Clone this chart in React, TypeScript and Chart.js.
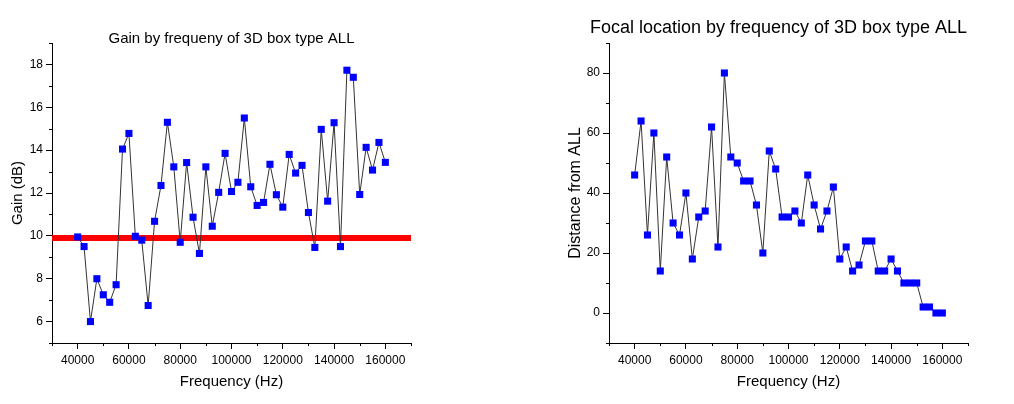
import React, { useEffect, useRef } from "react";
import { Chart, registerables } from "chart.js";

Chart.register(...registerables);

// ---------------- data ----------------
const frequencies = [
  40000, 42500, 45000, 47500, 50000, 52500, 55000, 57500, 60000, 62500,
  65000, 67500, 70000, 72500, 75000, 77500, 80000, 82500, 85000, 87500,
  90000, 92500, 95000, 97500, 100000, 102500, 105000, 107500, 110000, 112500,
  115000, 117500, 120000, 122500, 125000, 127500, 130000, 132500, 135000, 137500,
  140000, 142500, 145000, 147500, 150000, 152500, 155000, 157500, 160000,
];

const gainDb = [
  9.95, 9.5, 6.0, 8.0, 7.25, 6.9, 7.72, 14.05, 14.78, 9.98,
  9.8, 6.75, 10.68, 12.35, 15.3, 13.22, 9.7, 13.42, 10.87, 9.18,
  13.22, 10.45, 12.03, 13.85, 12.07, 12.5, 15.5, 12.29, 11.42, 11.56,
  13.34, 11.92, 11.34, 13.8, 12.93, 13.29, 11.09, 9.46, 14.97, 11.62,
  15.28, 9.5, 17.73, 17.4, 11.93, 14.13, 13.07, 14.36, 13.43,
];

const focalDistance = [
  46, 64, 26, 60, 14, 52, 30, 26, 40, 18,
  32, 34, 62, 22, 80, 52, 50, 44, 44, 36,
  20, 54, 48, 32, 32, 34, 30, 46, 36, 28,
  34, 42, 18, 22, 14, 16, 24, 24, 14, 14,
  18, 14, 10, 10, 10, 2, 2, 0, 0,
];

const gainReference = 9.9;

const freqRange = [30000, 170000];
const freqStep = 10000;
const freqMajor = 20000;

const gainRange = [5, 19];
const gainStep = 1;
const gainMajor = 2;

const focalRange = [-10, 90];
const focalStep = 10;
const focalMajor = 20;

// ---------------- styling ----------------
const FONT = 'Arial, "Liberation Sans", Helvetica, sans-serif';

const minorTicks = {
  id: "minorTicks",
  afterDraw(chart: any, _args: any, opts: any) {
    const { ctx, chartArea } = chart;
    ctx.save();
    ctx.strokeStyle = "#000";
    ctx.lineWidth = 1;
    ctx.beginPath();
    const xs = chart.scales.x;
    xs.ticks.forEach((t: any) => {
      if (t.value % opts.xMajor === 0) return;
      const px = Math.round(xs.getPixelForValue(t.value)) + 0.5;
      ctx.moveTo(px, chartArea.bottom);
      ctx.lineTo(px, chartArea.bottom + opts.len);
    });
    const ys = chart.scales.y;
    ys.ticks.forEach((t: any) => {
      if (t.value % opts.yMajor === 0) return;
      const py = Math.round(ys.getPixelForValue(t.value)) + 0.5;
      ctx.moveTo(chartArea.left, py);
      ctx.lineTo(chartArea.left - opts.len, py);
    });
    ctx.stroke();
    ctx.restore();
  },
};

const panelTitle = {
  id: "panelTitle",
  afterDraw(chart: any, _args: any, opts: any) {
    const { ctx, chartArea } = chart;
    ctx.save();
    ctx.font = `${opts.size}px ${FONT}`;
    ctx.fillStyle = "#000";
    ctx.textAlign = "center";
    ctx.textBaseline = "alphabetic";
    ctx.fillText(opts.text, (chartArea.left + chartArea.right) / 2 + opts.dx, chartArea.top - opts.dy);
    ctx.restore();
  },
};

function axis(opts: any) {
  const { min, max, step, major, title, titleSize, titlePadding, fit, isX, tickPad } = opts;
  return {
    type: "linear",
    min,
    max,
    afterFit: (s: any) => {
      if (isX) s.height = fit;
      else s.width = fit;
    },
    ticks: {
      stepSize: step,
      autoSkip: false,
      maxRotation: 0,
      padding: tickPad,
      color: "#000",
      font: { family: FONT, size: 12 },
      callback: (v: any) => (Number(v) % major === 0 ? String(v) : ""),
    },
    grid: {
      drawOnChartArea: false,
      drawTicks: true,
      tickLength: 6,
      lineWidth: 1,
      tickColor: (c: any) =>
        c.tick && Number(c.tick.value) % major === 0 ? "#000" : "rgba(0,0,0,0)",
    },
    border: { display: true, color: "#000", width: 1 },
    title: {
      display: true,
      text: title,
      color: "#000",
      font: { family: FONT, size: titleSize },
      padding: titlePadding,
    },
  };
}

function makeConfig(p: any) {
  const datasets: any[] = [
    {
      data: p.values.map((v: number, i: number) => ({ x: frequencies[i], y: v })),
      borderColor: "#333",
      borderWidth: 1,
      pointStyle: "rect",
      pointRadius: 5,
      pointHoverRadius: 5,
      pointBackgroundColor: "#0000ff",
      pointBorderWidth: 0,
      tension: 0,
    },
  ];
  if (p.reference !== undefined) {
    datasets.push({
      data: [
        { x: freqRange[0], y: p.reference },
        { x: freqRange[1], y: p.reference },
      ],
      borderColor: "#ff0000",
      borderWidth: 6,
      pointRadius: 0,
      tension: 0,
    });
  }
  return {
    type: "line",
    data: { datasets },
    options: {
      responsive: false,
      animation: false,
      devicePixelRatio: 1,
      events: [],
      layout: { padding: { left: 0, top: 43, right: p.padRight, bottom: 0 } },
      plugins: {
        legend: { display: false },
        tooltip: { enabled: false },
        title: { display: false },
        panelTitle: p.title,
        minorTicks: { xMajor: freqMajor, yMajor: p.yMajor, len: 3 },
      },
      scales: {
        x: axis({
          min: freqRange[0],
          max: freqRange[1],
          step: freqStep,
          major: freqMajor,
          title: "Frequency (Hz)",
          titleSize: 15,
          titlePadding: { top: 0, bottom: 13 },
          fit: 61,
          isX: true,
          tickPad: 4,
        }),
        y: axis({
          min: p.yRange[0],
          max: p.yRange[1],
          step: p.yStep,
          major: p.yMajor,
          title: p.yTitle,
          titleSize: p.yTitleSize,
          titlePadding: { top: p.yTitlePad, bottom: 0 },
          fit: p.yWidth,
          isX: false,
          tickPad: 3,
        }),
      },
    },
    plugins: [minorTicks, panelTitle],
  };
}

function ChartCanvas({ left, width, config }: any) {
  const ref = useRef<HTMLCanvasElement | null>(null);
  useEffect(() => {
    if (!ref.current) return;
    const chart = new Chart(ref.current, config);
    return () => chart.destroy();
  }, []);
  return (
    <canvas
      ref={ref}
      width={width}
      height={404}
      style={{ position: "absolute", left, top: 0, width, height: 404 }}
    />
  );
}

export default function App() {
  const gainConfig = makeConfig({
    values: gainDb,
    reference: gainReference,
    padRight: 96,
    yRange: gainRange,
    yStep: gainStep,
    yMajor: gainMajor,
    yTitle: "Gain (dB)",
    yTitleSize: 15,
    yTitlePad: 9,
    yWidth: 52,
    title: { text: "Gain by frequeny of 3D box type ALL", size: 15, dx: 0, dy: 0.5 },
  });
  const focalConfig = makeConfig({
    values: focalDistance,
    padRight: 46,
    yRange: focalRange,
    yStep: focalStep,
    yMajor: focalMajor,
    yTitle: "Distance from ALL",
    yTitleSize: 16,
    yTitlePad: 59,
    yWidth: 102,
    title: { text: "Focal location by frequency of 3D box type ALL", size: 18, dx: -10, dy: 10.5 },
  });
  return (
    <div style={{ position: "absolute", left: 0, top: 0, width: 1014, height: 404, background: "#fff" }}>
      <ChartCanvas left={0} width={507} config={gainConfig} />
      <ChartCanvas left={507} width={507} config={focalConfig} />
    </div>
  );
}
